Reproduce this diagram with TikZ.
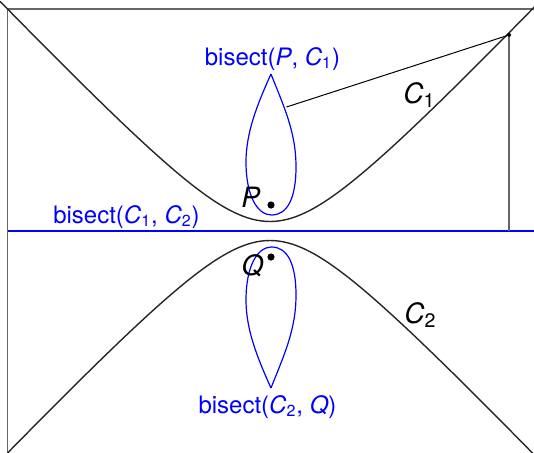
\documentclass[tikz,border=0pt]{standalone}
\usepackage{fontspec}
\setmainfont{TeX Gyre Heros}
\usetikzlibrary{positioning}
\newcommand{\sym}[2]{\textit{#1}\textsubscript{#2}}

\begin{document}
\begin{tikzpicture}[x=0.5pt, y=0.5pt,
  frame/.style={draw=black!60, line width=0.55pt},
  curve/.style={black!85, line width=0.7pt},
  bisector/.style={blue, line width=0.6pt},
  blabel/.style={text=blue, font=\fontsize{12}{14}\selectfont,
                 inner sep=0pt, anchor=base},
  clabel/.style={font=\fontsize{14}{16}\selectfont, inner sep=0pt, anchor=base},
  dot/.style={circle, fill=black, inner sep=0pt, minimum size=3.6pt}]
  \useasboundingbox (0,0) rectangle (534,452);
  \begin{scope}
    \clip (0,0) rectangle (534,452);
    \draw[frame] (7.5,0) -- (7.5,443) -- (534,443);
    % the two curves
    \draw[curve] plot[domain=-270:270, samples=121]
      ({270+\x}, {230.5+10.54*(sqrt(49+(\x/10)^2)-7)});
    \draw[curve] plot[domain=-270:270, samples=121]
      ({270+\x}, {211.5-10.54*(sqrt(49+(\x/10)^2)-7)});
    \draw[bisector] (7.5,221) -- (534,221);
  \end{scope}

  % bisectors of point and curve
  \draw[bisector] (271,378) .. controls (256,345) and (246,318) .. (246,290)
    .. controls (246,255) and (258,237) .. (271.5,237)
    .. controls (288,237) and (296,255) .. (296,285)
    .. controls (296,320) and (284,345) .. (271,378);
  \draw[bisector] (271,64) .. controls (256,97) and (246,124) .. (246,152)
    .. controls (246,187) and (258,205) .. (271.5,205)
    .. controls (288,205) and (296,187) .. (296,157)
    .. controls (296,122) and (284,97) .. (271,64);

  \node[dot] (pdot) at (271,247) {};
  \node[dot] (qdot) at (271,195) {};
  \node[dot, minimum size=2pt] (corner) at (509,417) {};
  \coordinate (foot) at (509,221);
  \coordinate (touch) at (286.5,345);
  \draw[frame] (corner) -- (foot);
  \draw[line width=0.5pt] (corner) -- (touch);

  \node[clabel] (plabel) at (251,245) {\textit{P}};
  \node[clabel] (qlabel) at (252.5,177) {\textit{Q}};
  \node[clabel] (c1label) at (419.5,349) {\sym{C}{1}};
  \node[clabel] (c2label) at (420.5,129) {\sym{C}{2}};
  \node[blabel] (bpc) at (272.5,387) {bisect(\textit{P}, \sym{C}{1})};
  \node[blabel] (bcc) at (126.5,229) {bisect(\sym{C}{1}, \sym{C}{2})};
  \node[blabel] (bcq) at (267.5,39) {bisect(\sym{C}{2}, \textit{Q})};
\end{tikzpicture}
\end{document}
